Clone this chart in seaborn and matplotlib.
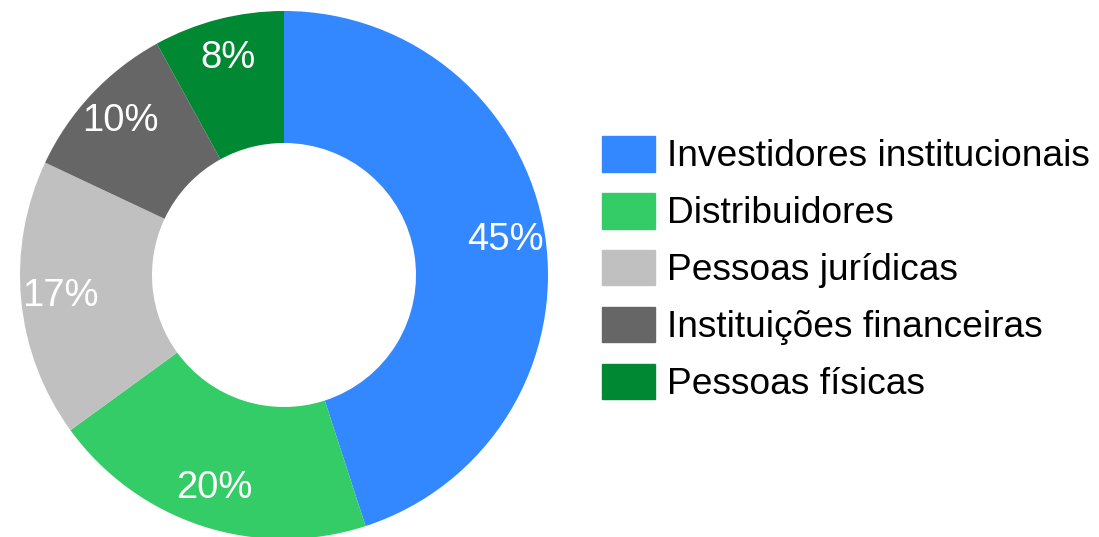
import matplotlib
matplotlib.use("Agg")
import matplotlib.pyplot as plt
import matplotlib.patches as mpatches
import seaborn as sns

categorias = ["Investidores institucionais", "Distribuidores", "Pessoas jurídicas",
              "Instituições financeiras", "Pessoas físicas"]
valores = [45, 20, 17, 10, 8]
cores = ["#3388FF", "#33CC66", "#C0C0C0", "#666666", "#008833"]

sns.set_theme(style="white")
plt.rcParams["font.family"] = ["Liberation Sans", "DejaVu Sans"]
plt.rcParams["text.color"] = "black"

fig = plt.figure(figsize=(10.99, 5.37), dpi=100)
W, H = 1099, 537
cx, cy, r = 284, 262, 264
ax = fig.add_axes([(cx - r) / W, (cy - r) / H, 2 * r / W, 2 * r / H])

wedges, texts, autotexts = ax.pie(
    valores, colors=cores, startangle=90, counterclock=False,
    autopct="%1.0f%%", pctdistance=0.85,
    wedgeprops=dict(width=0.5, linewidth=0),
    textprops=dict(color="white", fontsize=27.5),
)
ax.set_xlim(-1, 1)
ax.set_ylim(-1, 1)
ax.set_aspect("auto")
ax.axis("off")

handles = [mpatches.Patch(color=c, label=l) for c, l in zip(cores, categorias)]
leg = fig.legend(handles=handles, loc="upper left",
                 bbox_to_anchor=(602 / W, (H - 136) / H),
                 frameon=False, fontsize=26.7, borderpad=0, borderaxespad=0,
                 handlelength=1.43, handleheight=1.1, handletextpad=0.32,
                 labelspacing=0.5)
for t in leg.get_texts():
    t.set_color("black")

fig.savefig("out.png", dpi=100)
